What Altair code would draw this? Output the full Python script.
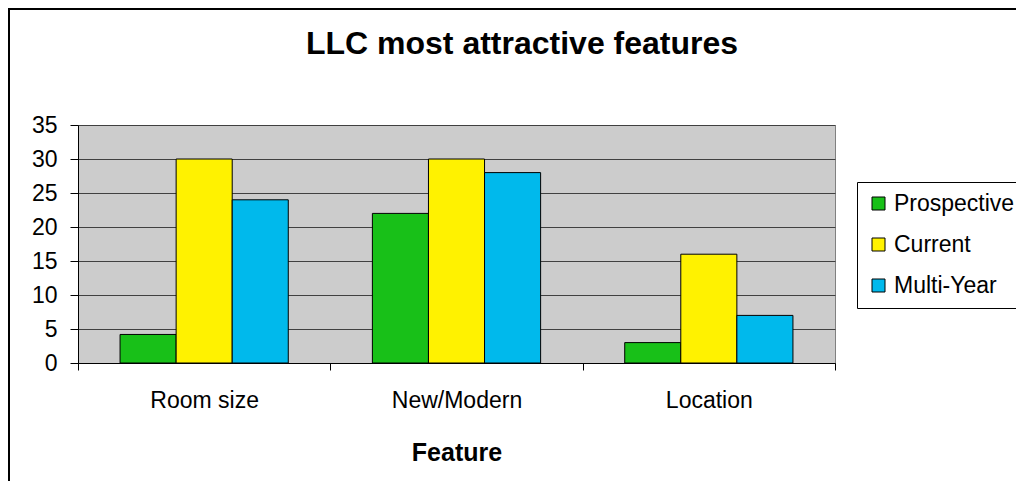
import altair as alt
import pandas as pd

categories = ["Room size", "New/Modern", "Location"]
series = ["Prospective", "Current", "Multi-Year"]
prospective = [4.2, 22, 3]
current = [30, 30, 16]
multi_year = [24, 28, 7]
y_ticks = [0, 5, 10, 15, 20, 25, 30, 35]
colors = ["#18C018", "#FFF200", "#00B9EC"]
title_text = "LLC most attractive features"
x_title = "Feature"

rows = []
for i, c in enumerate(categories):
    for s, vals in zip(series, [prospective, current, multi_year]):
        rows.append({"Feature": c, "Series": s, "Value": vals[i]})
df = pd.DataFrame(rows)

FONT = "Liberation Sans"

bars = alt.Chart(df).mark_bar(stroke="black", strokeWidth=1).encode(
    x=alt.X("Feature:N", sort=categories,
            scale=alt.Scale(paddingInner=0, paddingOuter=0),
            axis=alt.Axis(labelAngle=0, tickBand="extent", tickSize=7, labelPadding=19,
                          labelFontSize=23, titleFontSize=25, titleFontWeight="bold",
                          titlePadding=28, grid=False),
            title=x_title),
    xOffset=alt.XOffset("Series:N", sort=series,
                        scale=alt.Scale(paddingInner=0, paddingOuter=0.75)),
    y=alt.Y("Value:Q", scale=alt.Scale(domain=[0, 35], nice=False),
            axis=alt.Axis(values=y_ticks, tickSize=8, labelPadding=13, labelFontSize=23,
                          grid=True, gridColor="#404040", gridOpacity=1, gridWidth=1),
            title=None),
    color=alt.Color("Series:N", sort=series,
                    scale=alt.Scale(domain=series, range=colors),
                    legend=alt.Legend(title=None, orient="none", legendX=779, legendY=57,
                                      symbolType="square", symbolSize=169,
                                      symbolStrokeColor="black", symbolStrokeWidth=1,
                                      symbolOpacity=1,
                                      labelFontSize=23, labelFont=FONT, labelColor="black",
                                      labelOffset=4, rowPadding=17, padding=10,
                                      fillColor="white", strokeColor="black")),
)

title = alt.Chart(pd.DataFrame({"t": [title_text]})).mark_text(
    font=FONT, fontSize=32, fontWeight="bold", color="black",
    align="center", baseline="middle"
).encode(text="t:N", x=alt.value(444), y=alt.value(-81))

border = alt.Chart(pd.DataFrame({"b": [0]})).mark_rect(
    fill=None, stroke="black", strokeWidth=2
).encode(x=alt.value(-69), x2=alt.value(1100), y=alt.value(-116), y2=alt.value(600))

chart = alt.layer(border, bars, title).properties(
    width=757, height=238,
    autosize=alt.AutoSizeParams(type="none"),
    padding={"left": 70, "top": 117, "right": 181, "bottom": 118},
).configure_view(
    fill="#cccccc", stroke="#808080"
).configure_axis(
    domainColor="black", tickColor="black", labelColor="black", titleColor="black",
    labelFont=FONT, titleFont=FONT
)

chart.save("out.html", embed_options={"renderer": "svg", "actions": False})
